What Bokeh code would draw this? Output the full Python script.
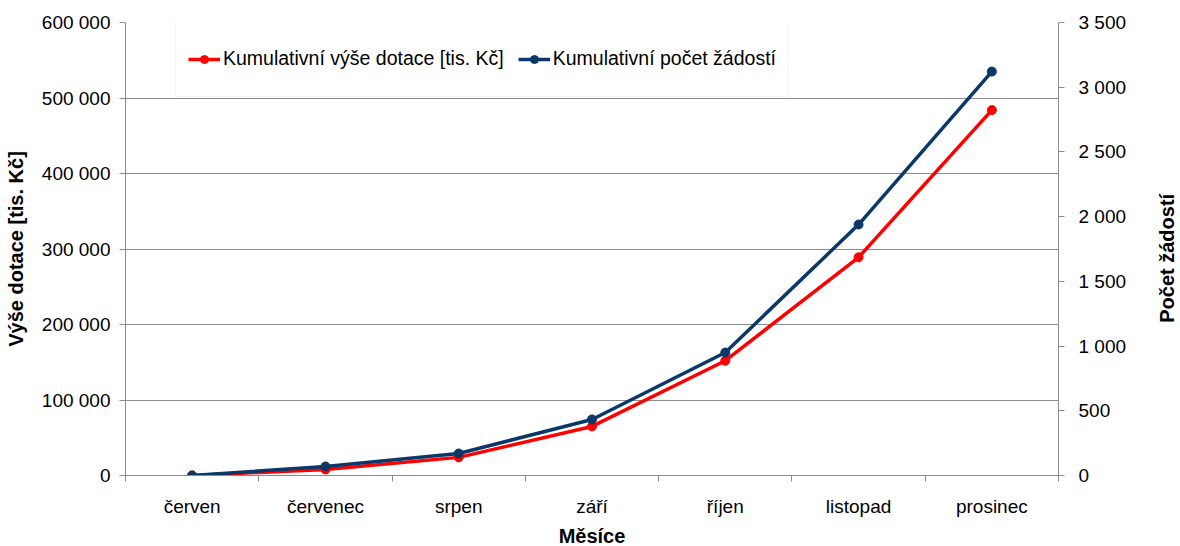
import math
from bokeh.plotting import figure
from bokeh.models import Range1d, LinearAxis, FixedTicker, Legend, LegendItem
from bokeh.embed import file_html
from bokeh.resources import INLINE

months = ["červen", "červenec", "srpen", "září", "říjen", "listopad", "prosinec"]
dotace = [0, 8000, 24000, 65000, 152000, 289000, 484000]
zadosti = [0, 70, 170, 433, 950, 1939, 3121]
left_ticks = [0, 100000, 200000, 300000, 400000, 500000, 600000]
right_ticks = [0, 500, 1000, 1500, 2000, 2500, 3000, 3500]

def fmt(v):
    return "{:,}".format(v).replace(",", " ")

FONT = "Liberation Sans"
TICK_FS = "19px"
TITLE_FS = "20px"
xs = [i + 0.5 for i in range(len(months))]

p = figure(width=1180, height=546, frame_width=933, frame_height=453,
           x_range=Range1d(0, 7), y_range=Range1d(0, 600000),
           output_backend="svg", toolbar_location=None,
           min_border_left=125, min_border_right=122, min_border_top=22, min_border_bottom=71)
p.extra_y_ranges = {"right": Range1d(0, 3500)}
p.outline_line_color = None
p.background_fill_color = "white"

# x axis
xa = p.xaxis[0]
xa.ticker = FixedTicker(ticks=xs, minor_ticks=list(range(8)))
xa.major_label_overrides = {x: m for x, m in zip(xs, months)}
xa.major_tick_line_color = None
xa.minor_tick_line_color = "#8c8c8c"
xa.minor_tick_out = 6
xa.minor_tick_in = 0
xa.axis_line_color = "#8c8c8c"
xa.major_label_text_font = FONT
xa.major_label_text_font_size = TICK_FS
xa.major_label_text_color = "#000000"
xa.major_label_standoff = 14
xa.axis_label = "Měsíce"
xa.axis_label_text_font = FONT
xa.axis_label_text_font_style = "bold"
xa.axis_label_text_font_size = TITLE_FS
xa.axis_label_text_color = "#000000"
xa.axis_label_standoff = 5

# left axis
ya = p.yaxis[0]
ya.ticker = FixedTicker(ticks=left_ticks, minor_ticks=[])
ya.major_label_overrides = {t: fmt(t) for t in left_ticks}
ya.axis_line_color = "#8c8c8c"
ya.major_tick_line_color = "#8c8c8c"
ya.major_tick_out = 6
ya.major_tick_in = 0
ya.minor_tick_line_color = None
ya.major_label_text_font = FONT
ya.major_label_text_font_size = TICK_FS
ya.major_label_text_color = "#000000"
ya.major_label_standoff = 9
ya.axis_label = "Výše dotace [tis. Kč]"
ya.axis_label_text_font = FONT
ya.axis_label_text_font_style = "bold"
ya.axis_label_text_font_size = TITLE_FS
ya.axis_label_text_color = "#000000"
ya.axis_label_standoff = 12

# right axis (ticks)
ra = LinearAxis(y_range_name="right")
ra.ticker = FixedTicker(ticks=right_ticks, minor_ticks=[])
ra.major_label_overrides = {t: fmt(t) for t in right_ticks}
ra.axis_line_color = "#8c8c8c"
ra.major_tick_line_color = "#8c8c8c"
ra.major_tick_out = 6
ra.major_tick_in = 0
ra.minor_tick_line_color = None
ra.major_label_text_font = FONT
ra.major_label_text_font_size = TICK_FS
ra.major_label_text_color = "#000000"
ra.major_label_standoff = 14
p.add_layout(ra, "right")

# right axis title, drawn as a single rotated label of a helper axis
# (anchor is the bottom end of the bottom-to-top text)
TITLE_ANCHOR = 1180
rt = LinearAxis(y_range_name="right")
rt.ticker = FixedTicker(ticks=[TITLE_ANCHOR], minor_ticks=[])
rt.major_label_overrides = {TITLE_ANCHOR: "Počet žádostí"}
rt.major_label_orientation = math.pi / 2
rt.axis_line_color = None
rt.major_tick_line_color = None
rt.minor_tick_line_color = None
rt.major_tick_out = 0
rt.major_tick_in = 0
rt.major_label_text_font = FONT
rt.major_label_text_font_style = "bold"
rt.major_label_text_font_size = TITLE_FS
rt.major_label_text_color = "#000000"
rt.major_label_standoff = 38
p.add_layout(rt, "right")

p.xgrid.grid_line_color = None
p.ygrid.ticker = FixedTicker(ticks=left_ticks)
p.ygrid.grid_line_color = "#8c8c8c"
p.ygrid.grid_line_width = 1

RED = "#ff0000"
BLUE = "#0a3868"
l1 = p.line(xs, dotace, line_color=RED, line_width=3.5)
s1 = p.scatter(xs, dotace, size=9, fill_color=RED, line_color=RED)
l2 = p.line(xs, zadosti, line_color=BLUE, line_width=3.5, y_range_name="right")
s2 = p.scatter(xs, zadosti, size=9, fill_color=BLUE, line_color=BLUE, y_range_name="right")

legend = Legend(items=[
    LegendItem(label="Kumulativní výše dotace [tis. Kč]", renderers=[l1, s1]),
    LegendItem(label="Kumulativní počet žádostí", renderers=[l2, s2]),
], orientation="horizontal", location=(50, 378))
legend.label_text_font = FONT
legend.label_text_font_size = "19.5px"
legend.label_text_color = "#000000"
legend.glyph_width = 32
legend.glyph_height = 20
legend.label_height = 51
legend.label_standoff = 3
legend.spacing = 14
legend.padding = 12
legend.margin = 0
legend.border_line_color = "#ececec"
legend.background_fill_color = "white"
legend.background_fill_alpha = 1.0
p.add_layout(legend, "center")

open("out.html", "w").write(file_html(p, INLINE))
